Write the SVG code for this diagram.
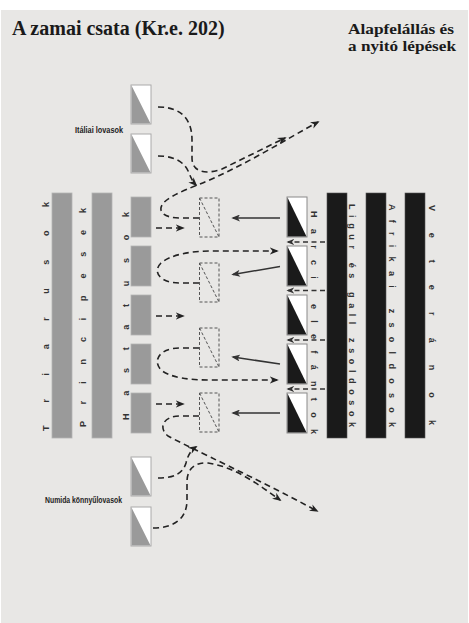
<svg xmlns="http://www.w3.org/2000/svg" width="469" height="623" viewBox="0 0 469 623">
<defs>
<style>
.bg{fill:#e8e7e5}
.title{font-family:"Liberation Serif",serif;font-weight:bold;fill:#1a1a1a}
.lbl{font-family:"Liberation Sans",Arial,sans-serif;font-weight:bold;font-size:8.5px;fill:#222}
.vt{font-family:"Liberation Sans",Arial,sans-serif;font-weight:bold;font-size:9px;fill:#333}
.gbar{fill:#9a9a9a;stroke:#b4b4b4;stroke-width:0.8}
.kbar{fill:#1a1a1a;stroke:#555;stroke-width:0.6}
.cavw{fill:#fff;stroke:#aaa;stroke-width:1}
.cavg{fill:#9a9a9a}
.elw{fill:#fff;stroke:#8a8a8a;stroke-width:1}
.elk{fill:#1a1a1a}
.drect{fill:none;stroke:#555;stroke-width:1;stroke-dasharray:3 2}
.dash{fill:none;stroke:#222;stroke-width:1.6;stroke-dasharray:6 4;marker-end:url(#ah)}
.dash2{fill:none;stroke:#333;stroke-width:1.3;stroke-dasharray:5 3.5;marker-end:url(#ah2)}
.solid{fill:none;stroke:#333;stroke-width:1.5;marker-end:url(#sh)}
</style>
<marker id="ah" viewBox="0 0 10 8" refX="8" refY="4" markerWidth="9" markerHeight="7.5" markerUnits="userSpaceOnUse" orient="auto">
<path d="M0,0 L10,4 L0,8 L3,4 Z" fill="#222"/>
</marker>
<marker id="ah2" viewBox="0 0 10 8" refX="8" refY="4" markerWidth="8" markerHeight="6.5" markerUnits="userSpaceOnUse" orient="auto">
<path d="M0,0 L10,4 L0,8 L3,4 Z" fill="#333"/>
</marker>
<marker id="sh" viewBox="0 0 10 8" refX="8" refY="4" markerWidth="9" markerHeight="7" markerUnits="userSpaceOnUse" orient="auto">
<path d="M0,0 L10,4 L0,8 L2.5,4 Z" fill="#333"/>
</marker>
</defs>
<rect x="0" y="0" width="469" height="623" fill="#ffffff"/>
<rect class="bg" x="1" y="10" width="467" height="613"/>

<text class="title" x="12" y="34.5" font-size="20">A zamai csata (Kr.e. 202)</text>
<text class="title" x="348" y="33.5" font-size="15.5" textLength="106" lengthAdjust="spacingAndGlyphs">Alapfelállás és</text>
<text class="title" x="348" y="50.5" font-size="15.5" textLength="108" lengthAdjust="spacingAndGlyphs">a nyitó lépések</text>

<g id="triarii">
<rect class="gbar" x="52" y="193" width="20" height="245"/>
<text class="vt" transform="translate(48.5,431) rotate(-90)" textLength="229" lengthAdjust="spacing">Triarusok</text>
</g>
<g id="principes">
<rect class="gbar" x="92" y="193" width="20" height="245"/>
<text class="vt" transform="translate(86,427) rotate(-90)" textLength="219" lengthAdjust="spacing">Principesek</text>
</g>
<g id="hastati">
<rect class="gbar" x="131" y="197" width="20" height="40"/>
<rect class="gbar" x="131" y="246" width="20" height="40"/>
<rect class="gbar" x="131" y="295" width="20" height="40"/>
<rect class="gbar" x="131" y="344" width="20" height="40"/>
<rect class="gbar" x="131" y="393" width="20" height="40"/>
<text class="vt" transform="translate(128.5,420) rotate(-90)" textLength="208" lengthAdjust="spacing">Hastatusok</text>
</g>
<g id="hastati-gaps">
<rect class="drect" x="199.5" y="198" width="19.5" height="39"/>
<line class="drect" x1="199.5" y1="198" x2="219" y2="237"/>
<rect class="drect" x="199.5" y="263" width="19.5" height="39"/>
<line class="drect" x1="199.5" y1="263" x2="219" y2="302"/>
<rect class="drect" x="199.5" y="328" width="19.5" height="39"/>
<line class="drect" x1="199.5" y1="328" x2="219" y2="367"/>
<rect class="drect" x="199.5" y="393" width="19.5" height="39"/>
<line class="drect" x1="199.5" y1="393" x2="219" y2="432"/>
</g>
<g id="italian-cavalry">
<rect class="cavw" x="131" y="85" width="20" height="39"/>
<polygon class="cavg" points="131.5,85.5 150.5,123.5 131.5,123.5"/>
<rect class="cavw" x="131" y="134" width="20" height="39"/>
<polygon class="cavg" points="131.5,134.5 150.5,172.5 131.5,172.5"/>
<text class="lbl" x="75" y="132.5" textLength="48" lengthAdjust="spacingAndGlyphs">Itáliai lovasok</text>
</g>
<g id="numidian-cavalry">
<rect class="cavw" x="131" y="457" width="20" height="39"/>
<polygon class="cavg" points="131.5,457.5 150.5,495.5 131.5,495.5"/>
<rect class="cavw" x="131" y="507" width="20" height="39"/>
<polygon class="cavg" points="131.5,507.5 150.5,545.5 131.5,545.5"/>
<text class="lbl" x="45" y="503" textLength="77" lengthAdjust="spacingAndGlyphs">Numida könnyűlovasok</text>
</g>
<g id="elephants">
<rect class="elw" x="287" y="197" width="20" height="40"/>
<polygon class="elk" points="287.5,197.5 306.5,236.5 287.5,236.5"/>
<rect class="elw" x="287" y="246" width="20" height="40"/>
<polygon class="elk" points="287.5,246.5 306.5,285.5 287.5,285.5"/>
<rect class="elw" x="287" y="295" width="20" height="40"/>
<polygon class="elk" points="287.5,295.5 306.5,334.5 287.5,334.5"/>
<rect class="elw" x="287" y="344" width="20" height="40"/>
<polygon class="elk" points="287.5,344.5 306.5,383.5 287.5,383.5"/>
<rect class="elw" x="287" y="393" width="20" height="40"/>
<polygon class="elk" points="287.5,393.5 306.5,432.5 287.5,432.5"/>
<text class="vt" transform="translate(311,211) rotate(90)" textLength="223" lengthAdjust="spacing">Harci elefántok</text>
</g>
<g id="ligurian-gallic">
<rect class="kbar" x="327" y="193" width="20" height="245"/>
<text class="vt" transform="translate(349,204) rotate(90)" textLength="223" lengthAdjust="spacing">Ligur és gall zsoldosok</text>
</g>
<g id="african">
<rect class="kbar" x="366" y="193" width="20" height="245"/>
<text class="vt" transform="translate(388.5,204) rotate(90)" textLength="223" lengthAdjust="spacing">Afrikai zsoldosok</text>
</g>
<g id="veterans">
<rect class="kbar" x="405" y="193" width="20" height="245"/>
<text class="vt" transform="translate(428.5,205) rotate(90)" textLength="220" lengthAdjust="spacing">Veteránok</text>
</g>

<g id="connectors">
<path class="dash" d="M158,107 C182,107 192,120 192,140 L192,158 C192,172 205,175 222,169 L285,138"/>
<path class="dash" d="M158,156 C178,156 186,165 189,173 C191,178 193,182 196,185"/>
<path class="dash" d="M199,218 L180,218 C165,218 158,212 162,205 C166,198 180,192 200,184 C240,168 285,140 318,122"/>
<path class="dash" d="M199,283 L180,283 C160,283 152,272 161,263 C170,255 190,251 210,251 L277,251"/>
<path class="dash" d="M199,348 L180,348 C160,348 152,360 161,370 C171,378 190,380 210,380 L277,380"/>
<path class="dash" d="M199,416 L180,416 C163,416 158,428 168,436 C190,448 260,480 317,511"/>
<path class="dash" d="M158,478 C175,478 183,473 186,463 C188,455 191,450 196,447"/>
<path class="dash" d="M153,528 C175,528 187,518 187,500 L187,482 C187,468 196,462 208,463 C235,467 258,484 280,500"/>
<path class="dash" d="M156,228 L183,228"/>
<path class="dash" d="M156,316 L183,316"/>
<path class="dash" d="M156,404 L183,404"/>
<path class="dash2" d="M325,242 L288,242"/>
<path class="dash2" d="M325,290.5 L288,290.5"/>
<path class="dash2" d="M325,340 L288,340"/>
<path class="dash2" d="M325,389 L288,389"/>
<path class="solid" d="M280,218 L233,218"/>
<path class="solid" d="M280,266.5 L233,274.5"/>
<path class="solid" d="M280,364 L233,357"/>
<path class="solid" d="M280,413 L233,413"/>
</g>
</svg>
